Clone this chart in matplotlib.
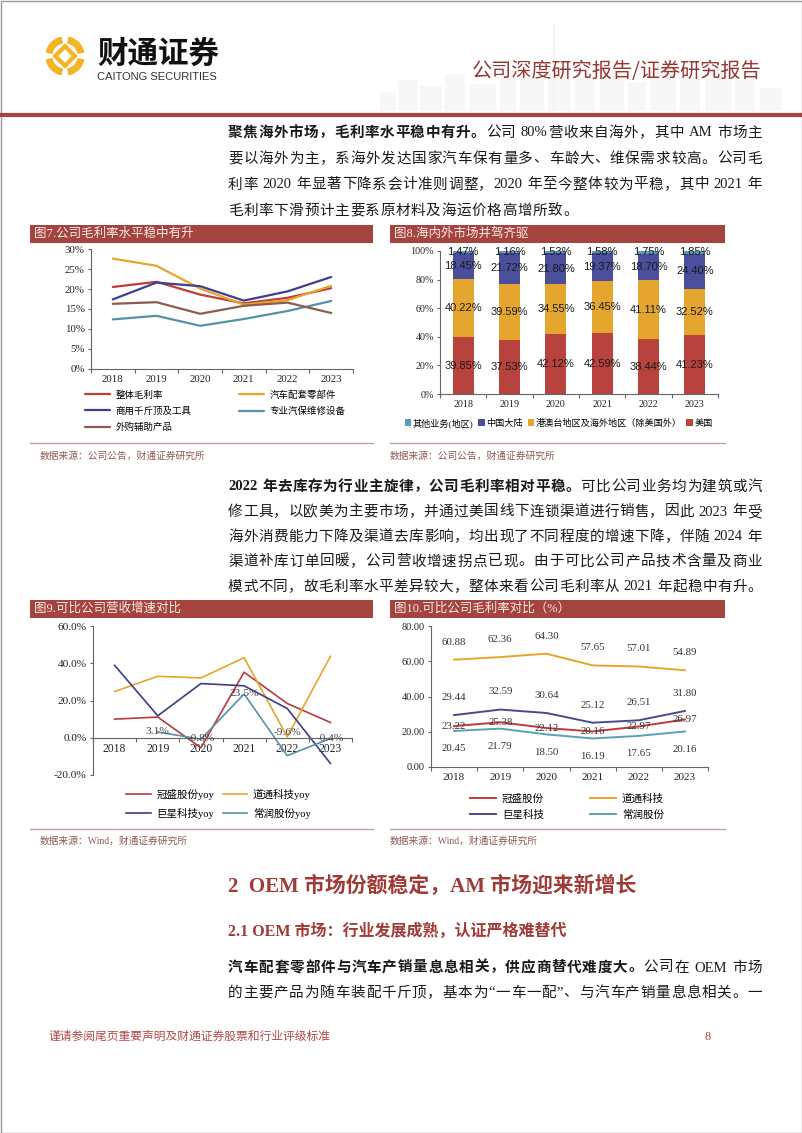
import re
import numpy as np
import matplotlib
matplotlib.use('Agg')
import matplotlib.pyplot as plt
from matplotlib.patches import Rectangle, Wedge, Polygon
from matplotlib.lines import Line2D

# ---------------- data ----------------
years = ['2018', '2019', '2020', '2021', '2022', '2023']

# Fig 7: gross margin by segment (%)
gm_overall = [20.5, 21.8, 18.6, 16.4, 17.8, 20.2]
gm_auto_parts = [27.6, 25.8, 20.1, 16.1, 17.2, 20.8]
gm_jacks_tools = [17.4, 21.6, 20.7, 17.1, 19.4, 23.0]
gm_equipment = [12.4, 13.3, 10.8, 12.5, 14.5, 17.0]
gm_outsourced = [16.3, 16.7, 13.8, 15.8, 16.6, 14.0]
gm_labels = ['整体毛利率', '汽车配套零部件', '商用千斤顶及工具', '专业汽保维修设备', '外购辅助产品']

# Fig 8: revenue share by region (%)
share_us = [39.85, 37.53, 42.12, 42.59, 38.44, 41.23]
share_intl = [40.22, 39.59, 34.55, 36.45, 41.11, 32.52]
share_cn = [18.45, 21.72, 21.80, 19.37, 18.70, 24.40]
share_other = [1.47, 1.16, 1.53, 1.58, 1.75, 1.85]
share_labels = ['美国', '港澳台地区及海外地区（除美国外）', '中国大陆', '其他业务(地区)']

# Fig 9: revenue growth yoy (%)
yoy_guansheng = [10.0, 11.1, -5.4, 35.2, 18.4, 8.2]
yoy_autel = [24.8, 33.0, 32.1, 43.0, 0.5, 43.7]
yoy_greatstar = [38.9, 11.8, 29.1, 27.9, 15.7, -13.8]
yoy_changrun = [np.nan, 3.1, -0.8, 23.5, -9.6, -0.4]
yoy_labels = ['冠盛股份yoy', '道通科技yoy', '巨星科技yoy', '常润股份yoy']

# Fig 10: gross margin comparison (%)
cm_guansheng = [23.22, 25.38, 22.12, 20.16, 22.97, 26.97]
cm_autel = [60.88, 62.36, 64.30, 57.65, 57.01, 54.89]
cm_greatstar = [29.44, 32.59, 30.64, 25.12, 26.51, 31.80]
cm_changrun = [20.45, 21.79, 18.50, 16.19, 17.65, 20.16]
cm_labels = ['冠盛股份', '道通科技', '巨星科技', '常润股份']

# ---------------- page setup ----------------
W, H = 802, 1133
fig = plt.figure(figsize=(W / 100, H / 100), dpi=100)
fig.patch.set_facecolor('white')
SERIF = ['Liberation Serif', 'Noto Sans CJK SC']
SANS = ['Liberation Sans', 'Noto Sans CJK SC']
CJK = ['Noto Sans CJK SC', 'Liberation Serif']
plt.rcParams['font.family'] = SERIF
plt.rcParams['axes.unicode_minus'] = False

TXT = '#1a1a1a'


def rect(l, t, r, b):
    return [l / W, 1 - b / H, (r - l) / W, (b - t) / H]


def ptext(x, y, s, **kw):
    kw.setdefault('va', 'center')
    kw.setdefault('ha', 'left')
    return fig.text(x / W, 1 - y / H, s, **kw)


def hline(x0, x1, y, color, lw):
    fig.add_artist(Line2D([x0 / W, x1 / W], [1 - y / H, 1 - y / H],
                          transform=fig.transFigure, color=color, lw=lw))


def prect(l, t, r, b, **kw):
    fig.add_artist(Rectangle((l / W, 1 - b / H), (r - l) / W, (b - t) / H,
                             transform=fig.transFigure, **kw))


# page border
prect(0.5, 0.5, W - 0.5, H - 0.5, fill=False, edgecolor='#9a9a9a', lw=1)

# faint skyline decoration in header
bld_x = [380, 398, 420, 445, 470, 500, 520, 548, 575, 600, 628, 650, 680, 705, 735, 760]
bld_w = [16, 20, 22, 20, 26, 16, 24, 22, 20, 24, 18, 26, 20, 26, 20, 22]
bld_t = [92, 80, 86, 74, 84, 70, 78, 66, 76, 70, 82, 64, 76, 68, 80, 88]
for bx, bw, bt in zip(bld_x, bld_w, bld_t):
    prect(bx, bt, bx + bw, 111, facecolor='#f7f7f7', edgecolor='none')
prect(553, 25, 555, 111, facecolor='#f3f3f3', edgecolor='none')

# header red rule
hline(2, W - 2, 115, '#a8443f', 3)

# logo
axl = fig.add_axes(rect(45, 36, 85, 76))
axl.set_xlim(-1.05, 1.05)
axl.set_ylim(-1.05, 1.05)
axl.set_aspect('equal')
axl.axis('off')
GOLD = '#f2b526'
for a0 in [12, 102, 192, 282]:
    axl.add_patch(Wedge((0, 0), 1.0, a0, a0 + 66, width=0.3, color=GOLD))
axl.add_patch(Polygon([[0, 0.62], [0.62, 0], [0, -0.62], [-0.62, 0]], color=GOLD))
axl.add_patch(Polygon([[0, 0.3], [0.3, 0], [0, -0.3], [-0.3, 0]], color='white'))

ptext(97, 54, '财通证券', fontsize=22, fontweight='bold', family=CJK, color='#111')
ptext(97, 77, 'CAITONG SECURITIES', fontsize=8, family=['Liberation Sans'], color='#333')
ptext(762, 72, '公司深度研究报告/证券研究报告', fontsize=14.5, family=CJK,
      color='#963733', ha='right')

# ---------------- justified body text ----------------
renderer = fig.canvas.get_renderer()


def body_line(y, segs, size=10.5, x0=228, x1=762, justify=True):
    items = []
    for text, bold in segs:
        for tok in re.findall(r'[A-Za-z0-9%\.]+| |.', text):
            items.append((tok, bold))
    arts, widths = [], []
    for tok, bold in items:
        if tok == ' ':
            arts.append(None)
            widths.append(size * 100 / 72 * 0.25)
            continue
        t = ptext(0, y, tok, fontsize=size, family=SERIF, color=TXT,
                  fontweight='bold' if bold else 'normal')
        arts.append(t)
        widths.append(t.get_window_extent(renderer).width)
    n = len(items)
    gap = ((x1 - x0) - sum(widths)) / (n - 1) if (justify and n > 1) else 0.6
    x = x0
    for a, w in zip(arts, widths):
        if a is not None:
            a.set_x(x / W)
        x += w + gap


para1 = [
    (133, [('聚焦海外市场，毛利率水平稳中有升。', True), ('公司 80%营收来自海外，其中 AM 市场主', False)], True),
    (159, [('要以海外为主，系海外发达国家汽车保有量多、车龄大、维保需求较高。公司毛', False)], True),
    (185, [('利率 2020 年显著下降系会计准则调整，2020 年至今整体较为平稳，其中 2021 年', False)], True),
    (211, [('毛利率下滑预计主要系原材料及海运价格高增所致。', False)], False),
]
para2 = [
    (487, [('2022 年去库存为行业主旋律，公司毛利率相对平稳。', True), ('可比公司业务均为建筑或汽', False)], True),
    (512, [('修工具，以欧美为主要市场，并通过美国线下连锁渠道进行销售，因此 2023 年受', False)], True),
    (537, [('海外消费能力下降及渠道去库影响，均出现了不同程度的增速下降，伴随 2024 年', False)], True),
    (562, [('渠道补库订单回暖，公司营收增速拐点已现。由于可比公司产品技术含量及商业', False)], True),
    (587, [('模式不同，故毛利率水平差异较大，整体来看公司毛利率从 2021 年起稳中有升。', False)], True),
]
para3 = [
    (968, [('汽车配套零部件与汽车产销量息息相关，供应商替代难度大。', True), ('公司在 OEM 市场', False)], True),
    (993, [('的主要产品为随车装配千斤顶，基本为“一车一配”、与汽车产销量息息相关。一', False)], True),
]
for y, segs, j in para1 + para2 + para3:
    body_line(y, segs, justify=j)

# headings
ptext(228, 887, '2  OEM 市场份额稳定，AM 市场迎来新增长', fontsize=15, fontweight='bold',
      family=SERIF, color='#a03a36')
ptext(228, 932, '2.1 OEM 市场：行业发展成熟，认证严格难替代', fontsize=11.5, fontweight='bold',
      family=SERIF, color='#a03a36')

# footer
ptext(48, 1037, '谨请参阅尾页重要声明及财通证券股票和行业评级标准', fontsize=8.5, family=SERIF,
      color='#b04a45')
ptext(708, 1037, '8', fontsize=9, family=SERIF, color='#b04a45', ha='center')

# ---------------- chart frames ----------------
BAR = '#a5433e'
def title_bar(l, t, r, b, s):
    prect(l, t, r, b, facecolor=BAR, edgecolor='none')
    ptext(l + 4, (t + b) / 2, s, fontsize=9, family=SERIF, color='#f6ecea')


title_bar(30, 225, 373, 243, '图7.公司毛利率水平稳中有升')
title_bar(390, 225, 725, 243, '图8.海内外市场并驾齐驱')
title_bar(30, 600, 373, 618, '图9.可比公司营收增速对比')
title_bar(390, 600, 725, 618, '图10.可比公司毛利率对比（%）')

SEP = '#bfa3a3'
hline(30, 373, 443, SEP, 1)
hline(390, 725, 443, SEP, 1)
hline(30, 373, 829, SEP, 1)
hline(390, 725, 829, SEP, 1)
SRC = '#8c5a55'
ptext(40, 456, '数据来源：公司公告，财通证券研究所', fontsize=7, family=SERIF, color=SRC)
ptext(390, 456, '数据来源：公司公告，财通证券研究所', fontsize=7, family=SERIF, color=SRC)
ptext(40, 841, '数据来源：Wind，财通证券研究所', fontsize=7, family=SERIF, color=SRC)
ptext(390, 841, '数据来源：Wind，财通证券研究所', fontsize=7, family=SERIF, color=SRC)


def style_axes(ax, fs_y, fs_x, xpad=4):
    for s in ['top', 'right']:
        ax.spines[s].set_visible(False)
    for s in ['left', 'bottom']:
        ax.spines[s].set_color('#666666')
        ax.spines[s].set_linewidth(0.8)
    ax.set_xlim(-0.5, 5.5)
    ax.set_xticks(np.arange(-0.5, 6, 1))
    ax.set_xticklabels([])
    ax.set_xticks(np.arange(6), minor=True)
    ax.set_xticklabels(years, minor=True)
    ax.tick_params(axis='x', which='major', direction='out', length=3, width=0.8, color='#666666')
    ax.tick_params(axis='x', which='minor', length=0, pad=xpad, labelsize=fs_x, labelcolor='#222')
    ax.tick_params(axis='y', direction='out', length=2.5, width=0.8, color='#666666',
                   labelsize=fs_y, labelcolor='#222', pad=2)
    ax.set_facecolor('none')


x = np.arange(len(years))

# ---------------- Fig 7 ----------------
ax7 = fig.add_axes(rect(91, 249, 353, 369))
c7 = ['#c23b35', '#e6a52a', '#3f3f8f', '#5293a8', '#8f5b4c']
series7 = [gm_overall, gm_auto_parts, gm_jacks_tools, gm_equipment, gm_outsourced]
lines7 = []
for vals, c, lab in zip(series7, c7, gm_labels):
    ln, = ax7.plot(x, vals, color=c, lw=1.6, label=lab, solid_capstyle='round')
    lines7.append(ln)
ax7.set_ylim(0, 30)
ax7.set_yticks(range(0, 31, 5))
ax7.set_yticklabels([f'{v}%' for v in range(0, 31, 5)])
style_axes(ax7, 7.8, 7.8, xpad=4)
order7 = [0, 2, 4, 1, 3]
ax7.legend([lines7[i] for i in order7], [gm_labels[i] for i in order7], ncol=2,
           loc='center left', bbox_to_anchor=(80 / W, 1 - 411 / H), bbox_transform=fig.transFigure,
           frameon=False, borderpad=0, handlelength=2.7, handletextpad=0.55,
           columnspacing=5.0, labelspacing=0.7, prop={'family': SERIF, 'size': 6.8})

# ---------------- Fig 8 ----------------
ax8 = fig.add_axes(rect(440, 251, 718, 394))
c8 = ['#b8423e', '#e5a630', '#4b4f9b', '#5a9bb5']
stack = [share_us, share_intl, share_cn, share_other]
bottom = np.zeros(len(years))
bars8 = []
for vals, c, lab in zip(stack, c8, share_labels):
    v = np.array(vals)
    b = ax8.bar(x, v, 0.45, bottom=bottom, color=c, label=lab, edgecolor='none')
    bars8.append(b)
    for xi, bi, vi in zip(x, bottom, v):
        ax8.text(xi, bi + vi / 2, f'{vi:.2f}%', ha='center', va='center', fontsize=8,
                 family=['Liberation Sans'], color='#1a1a1a')
    bottom = bottom + v
ax8.set_ylim(0, 100)
ax8.set_yticks(range(0, 101, 20))
ax8.set_yticklabels([f'{v}%' for v in range(0, 101, 20)])
style_axes(ax8, 7.2, 7.2, xpad=4)
ax8.legend(bars8[::-1], share_labels[::-1], ncol=4, loc='center left',
           bbox_to_anchor=(400 / W, 1 - 423 / H), bbox_transform=fig.transFigure,
           frameon=False, borderpad=0, handlelength=0.75, handleheight=0.75,
           handletextpad=0.15, columnspacing=0.5, prop={'family': SERIF, 'size': 6.6})

# ---------------- Fig 9 ----------------
ax9 = fig.add_axes(rect(93, 626, 352, 775))
c9 = ['#b83a3e', '#e6a52c', '#3d3d86', '#5b90a4']
series9 = [yoy_guansheng, yoy_autel, yoy_greatstar, yoy_changrun]
lines9 = []
for vals, c, lab in zip(series9, c9, yoy_labels):
    ln, = ax9.plot(x, vals, color=c, lw=1.2, label=lab)
    lines9.append(ln)
ax9.set_ylim(-20, 60)
ax9.set_yticks(range(-20, 61, 20))
ax9.set_yticklabels([f'{v:.1f}%' for v in range(-20, 61, 20)])
style_axes(ax9, 8.2, 8.4, xpad=4)
ax9.spines['bottom'].set_position(('data', 0))
label_shift9 = [0, 0, 0.6, 0, 12.5, 0]
for xi, vi, dy in zip(x, yoy_changrun, label_shift9):
    if not np.isnan(vi):
        ax9.text(xi, vi + dy, f'{vi:.1f}%', ha='center', va='center', fontsize=8.2,
                 color='#444444')
order9 = [0, 2, 1, 3]
ax9.legend([lines9[i] for i in order9], [yoy_labels[i] for i in order9], ncol=2,
           loc='center left', bbox_to_anchor=(121 / W, 1 - 803.5 / H), bbox_transform=fig.transFigure,
           frameon=False, borderpad=0, handlelength=2.3, handletextpad=0.55,
           columnspacing=0.8, labelspacing=0.75, prop={'family': SERIF, 'size': 7.6})

# ---------------- Fig 10 ----------------
ax10 = fig.add_axes(rect(431, 626, 708, 767))
c10 = ['#c0393b', '#e6a42a', '#4a4a8c', '#5aa0b0']
series10 = [cm_guansheng, cm_autel, cm_greatstar, cm_changrun]
label_shift10 = [0, 10, 10, -10]
lines10 = []
for vals, c, lab, dy in zip(series10, c10, cm_labels, label_shift10):
    ln, = ax10.plot(x, vals, color=c, lw=1.4, label=lab)
    lines10.append(ln)
    for xi, vi in zip(x, vals):
        ax10.text(xi, vi + dy, f'{vi:.2f}', ha='center', va='center', fontsize=7.8,
                  color='#333333')
ax10.set_ylim(0, 80)
ax10.set_yticks(range(0, 81, 20))
ax10.set_yticklabels([f'{v:.2f}' for v in range(0, 81, 20)])
style_axes(ax10, 7.4, 8.0, xpad=4)
order10 = [0, 2, 1, 3]
ax10.legend([lines10[i] for i in order10], [cm_labels[i] for i in order10], ncol=2,
            loc='center left', bbox_to_anchor=(465 / W, 1 - 806.5 / H), bbox_transform=fig.transFigure,
            frameon=False, borderpad=0, handlelength=2.4, handletextpad=0.6,
            columnspacing=4.4, labelspacing=0.55, prop={'family': SERIF, 'size': 7.6})

fig.savefig('out.png', dpi=100)
